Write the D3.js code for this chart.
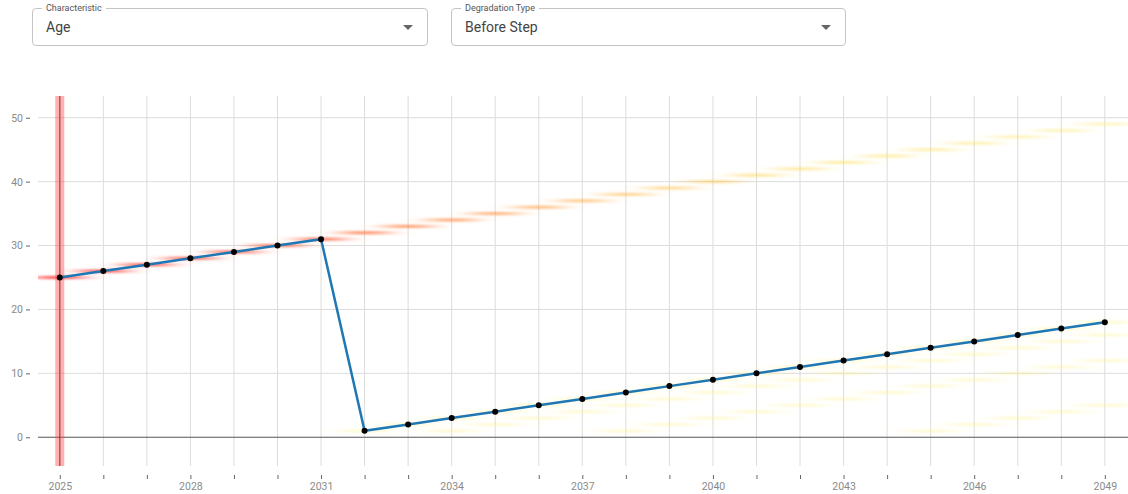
<!DOCTYPE html>
<html>
<head>
<meta charset="utf-8">
<script src="https://cdn.jsdelivr.net/npm/d3@7"></script>
<style>
  body { margin: 0; background: #fff; font-family: Roboto, "Noto Sans", sans-serif; }
  #page { position: relative; width: 1128px; height: 494px; overflow: hidden; }
  .select {
    position: absolute; top: 8px; height: 38px; box-sizing: border-box;
    border: 1px solid #c4c4c4; border-radius: 4px;
  }
  .select .lbl {
    position: absolute; top: -7px; left: 9px; padding: 0 4px; background: #fff;
    font-size: 9px; color: #555; line-height: 12px;
  }
  .select .val {
    position: absolute; left: 13px; top: 0; line-height: 37px; font-size: 14px; color: #444;
  }
  .select .arrow {
    position: absolute; right: 14px; top: 16px; width: 0; height: 0;
    border-left: 5px solid transparent; border-right: 5px solid transparent;
    border-top: 5px solid #666;
  }
  svg { position: absolute; left: 0; top: 0; }
</style>
</head>
<body>
<div id="page"></div>
<script>
// dropdowns
const selectLabels = ["Characteristic", "Degradation Type"];
const selectValues = ["Age", "Before Step"];

// chart data
const years = [2025, 2026, 2027, 2028, 2029, 2030, 2031, 2032, 2033, 2034, 2035, 2036, 2037,
               2038, 2039, 2040, 2041, 2042, 2043, 2044, 2045, 2046, 2047, 2048, 2049];
const labelYears = [2025, 2028, 2031, 2034, 2037, 2040, 2043, 2046, 2049];
const yTicks = [0, 10, 20, 30, 40, 50];

// observed age path (blue line)
const actualAge = [25, 26, 27, 28, 29, 30, 31, 1, 2, 3, 4, 5, 6, 7, 8, 9, 10, 11, 12, 13, 14, 15, 16, 17, 18];

// smeared scenario bands: age per year and its weight
const noStepAge = [25, 26, 27, 28, 29, 30, 31, 32, 33, 34, 35, 36, 37, 38, 39, 40, 41, 42, 43, 44, 45, 46, 47, 48, 49];
const noStepWeight = [1.0, 0.97, 0.94, 0.9, 0.87, 0.83, 0.8, 0.72, 0.65, 0.6, 0.55, 0.5, 0.45,
                      0.4, 0.36, 0.33, 0.3, 0.27, 0.25, 0.23, 0.21, 0.19, 0.17, 0.15, 0.13];
const step2032Age = [null, null, null, null, null, null, null, 1, 2, 3, 4, 5, 6, 7, 8, 9, 10, 11, 12, 13, 14, 15, 16, 17, 18];
const step2034Age = [null, null, null, null, null, null, null, null, null, 1, 2, 3, 4, 5, 6, 7, 8, 9, 10, 11, 12, 13, 14, 15, 16];
const step2038Age = [null, null, null, null, null, null, null, null, null, null, null, null, null, 1, 2, 3, 4, 5, 6, 7, 8, 9, 10, 11, 12];
const step2045Age = [null, null, null, null, null, null, null, null, null, null, null, null, null, null, null, null, null, null, null, null, 1, 2, 3, 4, 5];
const stepWeights = [0.06, 0.05, 0.05, 0.05];

const currentYear = 2025;

const page = d3.select("#page");

// Dropdowns
const boxes = [{ left: 32, width: 396 }, { left: 451, width: 395 }];
boxes.forEach((b, i) => {
    const box = page.append("div").attr("class", "select")
        .style("left", b.left + "px").style("width", b.width + "px");
    box.append("span").attr("class", "lbl").text(selectLabels[i]);
    box.append("span").attr("class", "val").text(selectValues[i]);
    box.append("div").attr("class", "arrow");
});

const width = 1128;
const height = 494;
const plot = { left: 38, right: 1128, top: 96, bottom: 466 };

const svg = page.append("svg")
    .attr("width", width)
    .attr("height", height);

const x = d3.scaleLinear()
    .domain([2024.5, 2049.5])
    .range([plot.left, 1126.6]);

const y = d3.scaleLinear()
    .domain([-4.5, 53.4])
    .range([plot.bottom, plot.top]);

const defs = svg.append("defs");
defs.append("clipPath").attr("id", "plotclip")
    .append("rect")
    .attr("x", plot.left).attr("y", plot.top)
    .attr("width", plot.right - plot.left).attr("height", plot.bottom - plot.top);
defs.append("filter").attr("id", "smear")
    .attr("x", "-1").attr("y", "-4").attr("width", "3").attr("height", "9")
    .append("feGaussianBlur").attr("stdDeviation", "13 1.1");

// Grid
const grid = svg.append("g");
grid.selectAll(".vgrid")
    .data(years)
    .enter()
    .append("line")
    .attr("x1", d => x(d)).attr("x2", d => x(d))
    .attr("y1", plot.top).attr("y2", plot.bottom)
    .attr("stroke", "#dcdcdc");
grid.selectAll(".hgrid")
    .data(yTicks.filter(d => d !== 0))
    .enter()
    .append("line")
    .attr("x1", plot.left).attr("x2", plot.right)
    .attr("y1", d => y(d)).attr("y2", d => y(d))
    .attr("stroke", "#dcdcdc");

// Color for band weight
const bandColor = d3.scaleLinear()
    .domain([0, 0.25, 0.5, 1])
    .range(["#fff7a0", "#ffdc4a", "#ff9b3d", "#ff3333"]);

const bands = [];
years.forEach((yr, i) => bands.push({ year: yr, age: noStepAge[i], w: noStepWeight[i] }));
[step2032Age, step2034Age, step2038Age, step2045Age].forEach((arr, k) => {
    arr.forEach((a, i) => {
        if (a !== null) bands.push({ year: years[i], age: a, w: stepWeights[k] });
    });
});

const bandW = x(2026) - x(2025);
svg.append("g")
    .attr("clip-path", "url(#plotclip)")
    .selectAll("rect")
    .data(bands)
    .enter()
    .append("rect")
    .attr("x", d => x(d.year) - bandW / 2)
    .attr("y", d => y(d.age) - 1.6)
    .attr("width", bandW)
    .attr("height", 3.2)
    .attr("fill", d => bandColor(d.w))
    .attr("fill-opacity", d => 0.4 + 0.5 * d.w)
    .attr("filter", "url(#smear)");

// Zero line
svg.append("line")
    .attr("x1", plot.left).attr("x2", plot.right)
    .attr("y1", y(0)).attr("y2", y(0))
    .attr("stroke", "#555");

// Current year marker
svg.append("rect")
    .attr("x", x(currentYear) - 4.5)
    .attr("y", plot.top)
    .attr("width", 9)
    .attr("height", plot.bottom - plot.top)
    .attr("fill", "#ff3b3b")
    .attr("fill-opacity", 0.4);
svg.append("line")
    .attr("x1", x(currentYear)).attr("x2", x(currentYear))
    .attr("y1", plot.top).attr("y2", plot.bottom)
    .attr("stroke", "#7a1f1f")
    .attr("stroke-opacity", 0.55)
    .attr("stroke-width", 1.5);

// Age line
const line = d3.line()
    .x((d, i) => x(years[i]))
    .y(d => y(d));

svg.append("path")
    .datum(actualAge)
    .attr("fill", "none")
    .attr("stroke", "#1f77b4")
    .attr("stroke-width", 2.5)
    .attr("d", line);

svg.append("g")
    .selectAll("circle")
    .data(actualAge)
    .enter()
    .append("circle")
    .attr("cx", (d, i) => x(years[i]))
    .attr("cy", d => y(d))
    .attr("r", 3)
    .attr("fill", "#000");

// Axes
const xAxis = svg.append("g")
    .attr("transform", "translate(0,475)")
    .call(d3.axisBottom(x)
        .tickValues(years)
        .tickSize(4)
        .tickPadding(4)
        .tickFormat(d => labelYears.includes(d) ? d : ""));
const yAxis = svg.append("g")
    .attr("transform", "translate(30,0)")
    .call(d3.axisLeft(y)
        .tickValues(yTicks)
        .tickSize(4)
        .tickPadding(3));

[xAxis, yAxis].forEach(ax => {
    ax.select(".domain").remove();
    ax.selectAll(".tick line").attr("stroke", "#666");
    ax.selectAll(".tick text")
        .attr("fill", "#8a8a8a")
        .style("font-size", "10.5px")
        .style("font-family", "Roboto, 'Noto Sans', sans-serif");
});
</script>
</body>
</html>
